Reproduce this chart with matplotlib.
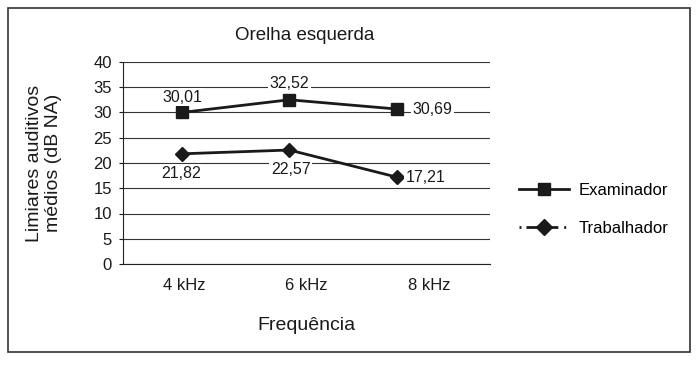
import matplotlib.pyplot as plt
from matplotlib.lines import Line2D
from matplotlib.patches import Rectangle

plt.rcParams['font.family'] = ['Liberation Sans', 'DejaVu Sans']

freqs = ['4 kHz', '6 kHz', '8 kHz']
examinador = [30.01, 32.52, 30.69]
trabalhador = [21.82, 22.57, 17.21]
lab_exam = ['30,01', '32,52', '30,69']
lab_trab = ['21,82', '22,57', '17,21']

ink = '#1a1a1a'
W, H = 700, 368
fig = plt.figure(figsize=(7, 3.68), dpi=100)
ax = fig.add_axes([123 / W, 1 - 264 / H, 367 / W, 202 / H])

x = list(range(len(freqs)))
ax.plot(x, examinador, color=ink, lw=2, marker='s', ms=8.5, zorder=3)
ax.plot(x, trabalhador, color=ink, lw=2, marker='D', ms=7, zorder=3)

# data labels (offsets in points)
offs_e = [(0, 11), (0, 12), (26, 0)]
offs_t = [(-1, -14), (1, -14), (21, 0)]
for i in range(3):
    ax.annotate(lab_exam[i], (x[i], examinador[i]), xytext=offs_e[i], textcoords='offset points',
                ha='center', va='center', fontsize=11.5, color=ink,
                bbox=dict(fc='white', ec='none', pad=1), zorder=4)
    ax.annotate(lab_trab[i], (x[i], trabalhador[i]), xytext=offs_t[i], textcoords='offset points',
                ha='center', va='center', fontsize=11.5, color=ink,
                bbox=dict(fc='white', ec='none', pad=1), zorder=4)

ax.set_ylim(0, 40)
ax.set_yticks(range(0, 41, 5))
xlo, xhi = -0.55, 2.87
ax.set_xlim(xlo, xhi)
# category labels sit at the centres of three equal slots of the axis
step = (xhi - xlo) / len(freqs)
ax.set_xticks([xlo + (i + 0.5) * step for i in range(len(freqs))])
ax.set_xticklabels(freqs)
ax.yaxis.grid(True, color='#333333', lw=0.8)
ax.set_axisbelow(True)
for s in ['top', 'right']:
    ax.spines[s].set_visible(False)
ax.spines['left'].set_color('#222222')
ax.spines['bottom'].set_color('#222222')
ax.tick_params(axis='y', length=3, pad=5, labelsize=12, colors=ink)
ax.tick_params(axis='x', length=0, labelsize=12, colors=ink, pad=10)

fig.text(305 / W, 1 - 36 / H, 'Orelha esquerda', fontsize=13.5, color=ink, ha='center', va='center')
fig.text(306 / W, 1 - 325 / H, 'Frequência', fontsize=14, color=ink, ha='center', va='center')
fig.text(44 / W, 1 - 163 / H, 'Limiares auditivos\nmédios (dB NA)', fontsize=14, color=ink,
         rotation=90, ha='center', va='center', multialignment='center', linespacing=1.15)

h1 = Line2D([], [], color=ink, lw=2, marker='s', ms=9)
h2 = Line2D([], [], color=ink, lw=2, marker='D', ms=8, dashes=(0.7, 1.8, 11.5, 2.1, 0.7, 30))
fig.legend([h1, h2], ['Examinador', 'Trabalhador'], loc='center left',
           bbox_to_anchor=(519 / W, 1 - 209.5 / H), frameon=False, fontsize=12,
           borderaxespad=0, borderpad=0,
           handlelength=3.0, labelspacing=1.35, handletextpad=0.6)

fig.patches.append(Rectangle((0.012, 0.043), 0.974, 0.935, transform=fig.transFigure,
                             fill=False, ec='#333333', lw=1.2))

fig.savefig('out.png', dpi=100)
